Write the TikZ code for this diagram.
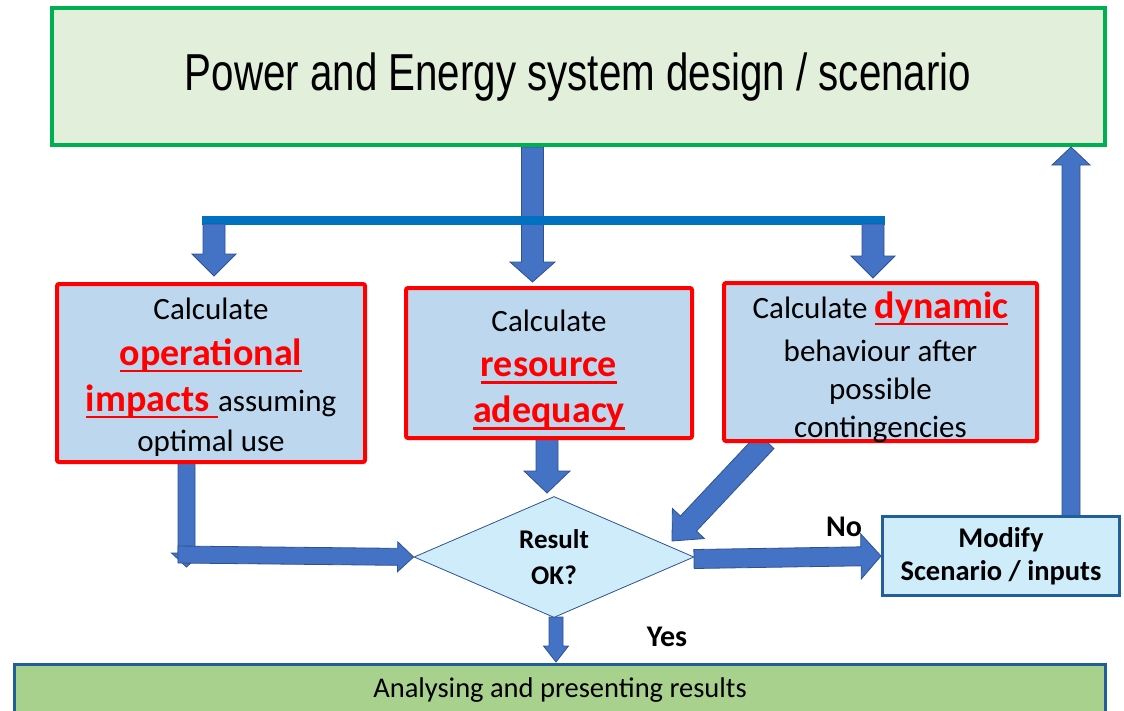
\documentclass[tikz,border=0pt]{standalone}
\usepackage{fontspec}
\setmainfont{Carlito}
\newfontfamily\titlefont[FakeStretch=0.775]{Liberation Sans}
\usetikzlibrary{shapes.geometric,calc}
\definecolor{topfill}{HTML}{E2EFDA}
\definecolor{topline}{HTML}{00B050}
\definecolor{calcfill}{HTML}{BDD7EE}
\definecolor{redline}{HTML}{FF0000}
\definecolor{lightblue}{HTML}{CFECFB}
\definecolor{darkline}{HTML}{215F9A}
\definecolor{resfill}{HTML}{A9D18E}
\definecolor{arrfill}{HTML}{4472C4}
\definecolor{arrline}{HTML}{2F528F}
\definecolor{barblue}{HTML}{0070C0}
\pgfdeclarelayer{bg}
\pgfsetlayers{bg,main}
\newcommand{\redul}[1]{\leavevmode\setbox0=\hbox{#1}\rlap{\rule[-7pt]{\wd0}{2.5pt}}\box0}
\newcommand{\bigred}{\fontsize{38}{38}\selectfont\bfseries\color{redline}}
% block arrow: start, end, shaft half width, head half width, head length
\newcommand{\barrow}[5]{%
  \coordinate (bh) at ($(#2)!#5!(#1)$);
  \draw[blockarr] ($(#1)!#3!90:(#2)$) -- ($(bh)!#3!90:(#2)$) -- ($(bh)!#4!90:(#2)$) -- (#2)
    -- ($(bh)!#4!-90:(#2)$) -- ($(bh)!#3!-90:(#2)$) -- ($(#1)!#3!-90:(#2)$) -- cycle;}
\begin{document}
\begin{tikzpicture}[x=1pt,y=-1pt,
  blockarr/.style={fill=arrfill,draw=arrline,line width=0.8pt,line join=miter},
  topbox/.style={rectangle,draw=topline,fill=topfill,line width=4pt,inner sep=0pt},
  calcbox/.style={rectangle,draw=redline,fill=calcfill,line width=4pt,rounded corners=2pt,inner sep=0pt},
  calctext/.style={inner sep=0pt,align=center,font=\fontsize{31}{38}\selectfont},
  decision/.style={diamond,draw=arrline,fill=lightblue,line width=0.8pt,inner sep=0pt,
    aspect=2.31,minimum width=280pt,minimum height=121pt,align=center,
    font=\fontsize{27}{36}\selectfont\bfseries},
  modbox/.style={rectangle,draw=darkline,fill=lightblue,line width=3pt,inner sep=0pt,
    align=center,font=\fontsize{28.5}{33}\selectfont\bfseries},
  resbox/.style={rectangle,draw=darkline,fill=resfill,line width=3pt,inner sep=0pt},
  lbl/.style={inner sep=0pt,font=\fontsize{30}{30}\selectfont\bfseries}]
\useasboundingbox (0,0) rectangle (1124,710);

\node[topbox,minimum width=1053pt,minimum height=137pt] (top) at (578.5,76.5) {};
\node[inner sep=0pt,font=\titlefont\fontsize{52}{55}\selectfont] (title) at (578,77) {Power and Energy system design / scenario};

\node[calcbox,minimum width=308pt,minimum height=178pt] (box1) at (211,373) {};
\node[calctext] (t1) at (211,377)
  {Calculate\\[8pt] {\bigred\redul{operational}}\\[8pt] {\bigred\redul{impacts\ }}assuming\\[2pt] optimal use};
\node[calcbox,minimum width=286pt,minimum height=150pt] (box2) at (549,363) {};
\node[calctext] (t2) at (549,370)
  {Calculate\\[7pt] {\bigred\redul{resource}}\\[8pt] {\bigred\redul{adequacy}}};
\node[calcbox,minimum width=313pt,minimum height=158pt] (box3) at (880.5,362) {};
\node[calctext] (t3) at (880.5,367)
  {Calculate {\bigred\redul{dynamic}}\\[5pt] behaviour after\\ possible\\ contingencies};

\node[decision] (dec) at (554,557) {Result\\OK?};
\node[modbox,minimum width=237pt,minimum height=79pt] (mod) at (1001,556) {Modify\\Scenario / inputs};
\node[resbox,minimum width=1091pt,minimum height=60pt] (res) at (560,694.5) {};
\node[inner sep=0pt,font=\fontsize{28.5}{30}\selectfont] (restext) at (560,690) {Analysing and presenting results};

\node[lbl] (no) at (844,527) {No};
\node[lbl] (yes) at (667,637) {Yes};

\coordinate (c0s) at (532.5,147);
\coordinate (c0e) at (532.5,282);
\coordinate (barL) at (202,220);
\coordinate (barR) at (885,220);
\coordinate (c1s) at (214,224);
\coordinate (c1e) at (214,276);
\coordinate (c3s) at (873,224);
\coordinate (c3e) at (873,278);
\coordinate (d2s) at (547,438);
\coordinate (d2e) at (547,493);
\coordinate (d1s) at (186.5,462);
\coordinate (d1e) at (186.5,567);
\coordinate (h1s) at (178,554.5);
\coordinate (h1e) at (dec.west);
\coordinate (d3s) at (766,441);
\coordinate (d3e) at (672,541);
\coordinate (nos) at (694,559);
\coordinate (noe) at (mod.west);
\coordinate (ups) at (1071,516);
\coordinate (upe) at (1071,147);
\coordinate (yss) at (556,617);
\coordinate (yse) at (556,662);

\begin{pgfonlayer}{bg}
  \barrow{c0s}{c0e}{11pt}{22.5pt}{20pt}
  \draw[barblue,line width=9pt] (barL) -- (barR);
  \barrow{c1s}{c1e}{11pt}{22pt}{22pt}
  \barrow{c3s}{c3e}{11pt}{22pt}{22pt}
  \barrow{d2s}{d2e}{11pt}{23pt}{22pt}
  \barrow{d1s}{d1e}{8.5pt}{15pt}{14pt}
  \barrow{h1s}{h1e}{8.5pt}{15pt}{16pt}
  \barrow{d3s}{d3e}{11pt}{22pt}{24pt}
  \barrow{nos}{noe}{9.5pt}{22.5pt}{20pt}
  \barrow{ups}{upe}{9pt}{19pt}{18pt}
  \barrow{yss}{yse}{7pt}{12.5pt}{16pt}
\end{pgfonlayer}
\end{tikzpicture}
\end{document}
